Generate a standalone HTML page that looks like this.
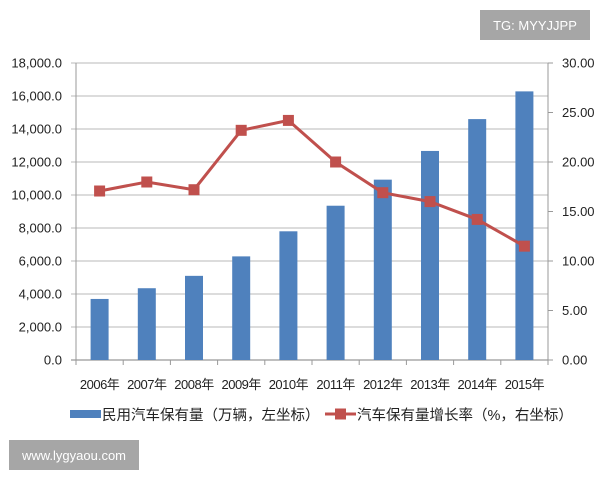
<!DOCTYPE html>
<html><head><meta charset="utf-8"><style>
body{margin:0;background:#fff;}
svg text{font-family:"Liberation Sans","Noto Sans CJK SC",sans-serif;fill:#222;}
</style></head><body>
<svg width="600" height="480">
<rect x="480" y="10" width="110" height="30" fill="#a6a6a6"/>
<text x="535" y="30" text-anchor="middle" font-size="13" style="fill:#fff">TG: MYYJJPP</text>
<rect x="9" y="440" width="130" height="30" fill="#a6a6a6"/>
<text x="74" y="460" text-anchor="middle" font-size="13" style="fill:#fff">www.lygyaou.com</text>
<g id="g"></g>
</svg>
<script>
const years=['2006年','2007年','2008年','2009年','2010年','2011年','2012年','2013年','2014年','2015年'];
const vehicles=[3700,4350,5100,6280,7800,9350,10930,12670,14600,16280];
const growth=[17.07,17.98,17.2,23.2,24.2,20.0,16.9,16.0,14.2,11.5];
const leftTicks=['0.0','2,000.0','4,000.0','6,000.0','8,000.0','10,000.0','12,000.0','14,000.0','16,000.0','18,000.0'];
const rightTicks=['0.00','5.00','10.00','15.00','20.00','25.00','30.00'];
const X0=76,X1=548,Y0=360,Y1=63;
const bw=(X1-X0)/years.length;
const yL=v=>Y0-(v/18000)*(Y0-Y1);
const yR=v=>Y0-(v/30)*(Y0-Y1);
const xC=i=>X0+bw*(i+0.5);
const g=document.getElementById('g');const NS='http://www.w3.org/2000/svg';
function mk(t,a,txt){const e=document.createElementNS(NS,t);for(const k in a)e.setAttribute(k,a[k]);if(txt!==undefined)e.textContent=txt;g.appendChild(e);return e;}
leftTicks.forEach((t,i)=>{const y=yL(i*2000);
const l=mk('line',{x1:X0-5,x2:X1,y1:y,y2:y,stroke:i?'#c8c8c8':'#999','stroke-width':1.2});

const tx=mk('text',{x:62,y:y+4.5,'text-anchor':'end','font-size':13},t);
});
let ax=mk('line',{x1:X0,x2:X0,y1:Y1,y2:Y0,stroke:'#999'});
ax=mk('line',{x1:X1,x2:X1,y1:Y1,y2:Y0,stroke:'#999'});
rightTicks.forEach((t,i)=>{const y=yR(i*5);
const l=mk('line',{x1:X1,x2:X1+5,y1:y,y2:y,stroke:'#999'});
const tx=mk('text',{x:562,y:y+4.5,'font-size':13},t);});
for(let i=0;i<=years.length;i++){const x=X0+bw*i;const l=mk('line',{x1:x,x2:x,y1:Y0,y2:Y0+5,stroke:'#999'});}
years.forEach((yv,i)=>{const v=vehicles[i];
const r=mk('rect',{x:xC(i)-9,y:yL(v),width:18,height:Y0-yL(v),fill:'#4f81bd'});

const t=mk('text',{x:xC(i),y:389,'text-anchor':'middle','font-size':13,'letter-spacing':'-0.5'},yv);
});
const pl=mk('polyline',{points:growth.map((v,i)=>xC(i)+','+yR(v)).join(' '),fill:'none',stroke:'#c0504d','stroke-width':3});

growth.forEach((v,i)=>{const p=mk('rect',{x:xC(i)-5.5,y:yR(v)-5.5,width:11,height:11,fill:'#c0504d'});
});
let e=mk('rect',{x:70,y:410,width:31,height:8,fill:'#4f81bd'});
e=mk('text',{x:102,y:420,'font-size':14.5},'民用汽车保有量（万辆，左坐标）');
e=mk('line',{x1:325,x2:356,y1:414,y2:414,stroke:'#c0504d','stroke-width':3});
e=mk('rect',{x:335,y:408.5,width:11,height:11,fill:'#c0504d'});
e=mk('text',{x:357,y:420,'font-size':14.5},'汽车保有量增长率（%，右坐标）');
</script>
</body></html>
